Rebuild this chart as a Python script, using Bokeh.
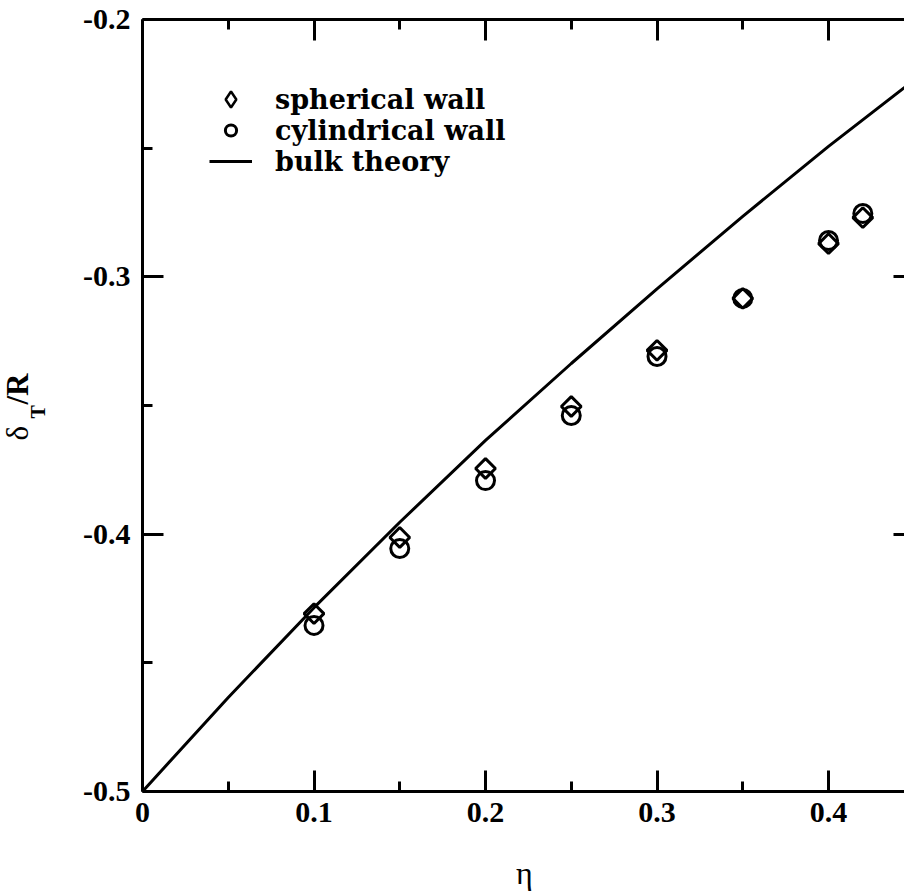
import math
from bokeh.plotting import figure
from bokeh.models import (FixedTicker, LinearAxis, Legend, LegendItem, Label, Range1d)
from bokeh.embed import file_html
from bokeh.resources import INLINE

# ---- data ----
eta = [0.10, 0.15, 0.20, 0.25, 0.30, 0.35, 0.40, 0.42]
spherical = [-0.4309, -0.4013, -0.3745, -0.3504, -0.3286, -0.3084, -0.2871, -0.2770]
cylindrical = [-0.4355, -0.4056, -0.3792, -0.3539, -0.3310, -0.3084, -0.2859, -0.2754]

eta_bulk = [0.0, 0.05, 0.10, 0.15, 0.20, 0.25, 0.30, 0.35, 0.40, 0.45]
bulk = [-0.5, -0.4635, -0.4286, -0.3954, -0.3636, -0.3337, -0.3047, -0.2765, -0.2493, -0.2235]

x_ticks = [0.0, 0.1, 0.2, 0.3, 0.4]
x_tick_labels = ["0", "0.1", "0.2", "0.3", "0.4"]
x_minor = [0.05, 0.15, 0.25, 0.35, 0.45]
y_ticks = [-0.5, -0.4, -0.3, -0.2]
y_tick_labels = ["-0.5", "-0.4", "-0.3", "-0.2"]
y_minor = [-0.45, -0.35, -0.25]

X_MIN, X_MAX = 0.0, 0.45
Y_MIN, Y_MAX = -0.5, -0.2

FONT = "Liberation Serif"
LEGEND_FONT = "DejaVu Serif"

# the frame covers the whole canvas; axes are pinned at the data box edges
p = figure(width=904, height=894, output_backend="svg", toolbar_location=None,
           x_range=Range1d(-0.0828, 0.4443), y_range=Range1d(-0.54007, -0.19262),
           x_axis_location=None, y_axis_location=None, min_border=0)
p.outline_line_color = None
p.grid.visible = False
p.background_fill_color = "white"
p.border_fill_color = "white"


def make_axis(ticks, minor, labels, loc, bounds, show_labels=True):
    ax = LinearAxis(ticker=FixedTicker(ticks=ticks, minor_ticks=minor),
                    fixed_location=loc, bounds=bounds)
    ax.axis_line_width = 3
    ax.axis_line_color = "black"
    ax.major_tick_line_width = 3
    ax.minor_tick_line_width = 3
    ax.major_tick_line_color = "black"
    ax.minor_tick_line_color = "black"
    ax.major_tick_in = 21
    ax.major_tick_out = 0
    ax.minor_tick_in = 10
    ax.minor_tick_out = 0
    ax.major_label_text_font = FONT
    ax.major_label_text_font_style = "bold"
    ax.major_label_text_font_size = "30px"
    ax.major_label_text_color = "black"
    ax.major_label_standoff = 12
    if show_labels:
        ax.major_label_overrides = dict(zip(ticks, labels))
    else:
        ax.major_label_overrides = {t: "" for t in ticks}
    return ax


p.add_layout(make_axis(x_ticks, x_minor, x_tick_labels, Y_MIN, (X_MIN, X_MAX)), "below")
p.add_layout(make_axis(y_ticks, y_minor, y_tick_labels, X_MIN, (Y_MIN, Y_MAX)), "left")
p.add_layout(make_axis(x_ticks, x_minor, x_tick_labels, Y_MAX, (X_MIN, X_MAX), False), "above")
p.add_layout(make_axis(y_ticks, y_minor, y_tick_labels, X_MAX, (Y_MIN, Y_MAX), False), "right")

# ---- data ----
r_bulk = p.line(eta_bulk, bulk, line_color="black", line_width=3)
r_sph = p.scatter(eta, spherical, marker="square", angle=math.pi / 4, size=14,
                  fill_color=None, line_color="black", line_width=3)
r_cyl = p.scatter(eta, cylindrical, marker="circle", size=18,
                  fill_color=None, line_color="black", line_width=3)
# key glyph for the legend only (legend keys are never rotated); NaN = not drawn in the plot
r_sph_key = p.scatter(x=[float("nan")], y=[float("nan")], marker="diamond", size=14,
                      fill_color=None, line_color="black", line_width=2.5)

legend_rows = [("spherical wall", r_sph_key, 99, 40),
               ("cylindrical wall", r_cyl, 130, 28),
               ("bulk theory", r_bulk, 161, 28)]
ROW_H = 44
for text, rend, cy, gh in legend_rows:
    lg = Legend(items=[LegendItem(label=text, renderers=[rend])],
                location=(209, 894 - ROW_H // 2 - cy), margin=0, padding=0,
                glyph_width=43, glyph_height=gh, label_standoff=23,
                label_height=ROW_H, label_text_font=LEGEND_FONT,
                label_text_font_style="bold", label_text_font_size="27px",
                label_text_color="black",
                border_line_color=None, background_fill_alpha=0)
    p.add_layout(lg, "center")

# ---- axis titles ----
p.add_layout(Label(x=0.2227, y=-0.5319, text="η", text_font=FONT,
                   text_font_size="32px", text_color="black",
                   text_align="center", text_baseline="middle"))
p.add_layout(Label(x=-0.0729, y=-0.36362, text="δ", angle=math.pi / 2,
                   text_font=FONT, text_font_size="31px", text_color="black",
                   text_baseline="middle", text_align="left"))
p.add_layout(Label(x=-0.0607, y=-0.35507, text="T", angle=math.pi / 2,
                   text_font=FONT, text_font_style="bold", text_font_size="20px",
                   text_color="black", text_baseline="middle", text_align="left"))
p.add_layout(Label(x=-0.0729, y=-0.34963, text="/R", angle=math.pi / 2,
                   text_font=FONT, text_font_style="bold", text_font_size="31px",
                   text_color="black", text_baseline="middle", text_align="left"))

open("out.html", "w").write(file_html(p, INLINE))
